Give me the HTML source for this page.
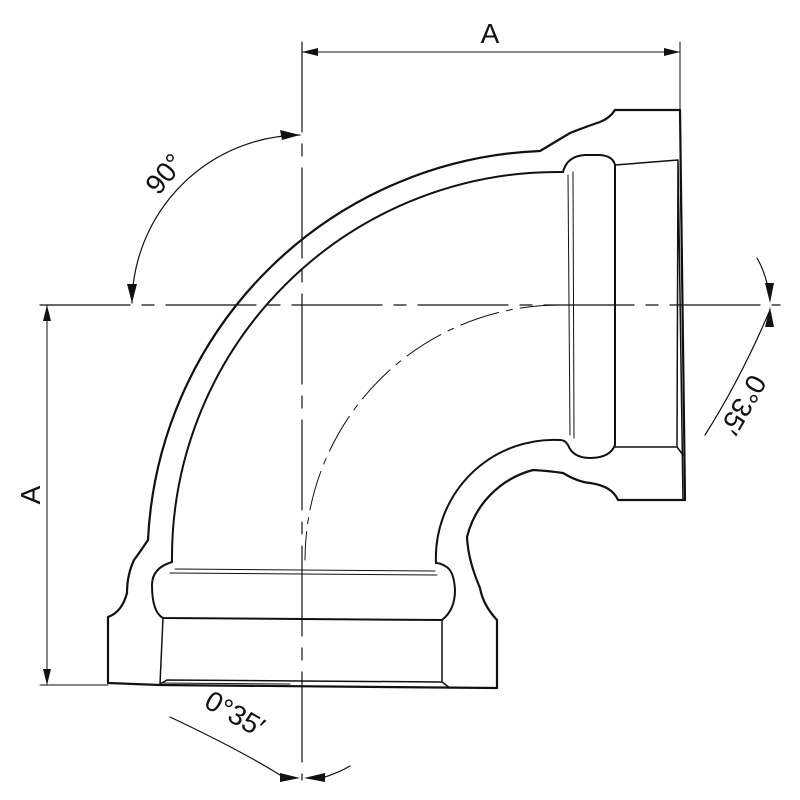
<!DOCTYPE html>
<html><head><style>html,body{margin:0;padding:0;background:#fff}svg{display:block}</style></head>
<body>
<svg width="800" height="800" viewBox="0 0 800 800" xmlns="http://www.w3.org/2000/svg" font-family="Liberation Sans, sans-serif">
<g fill="none" stroke="#111" stroke-linejoin="round" stroke-linecap="round">
<line x1="40" y1="305" x2="780" y2="305" stroke-width="1.2" stroke-dasharray="90,12,12,12"/>
<line x1="302" y1="42" x2="302" y2="780" stroke-width="1.2" stroke-dasharray="90,12,12,12"/>
<path d="M560 305 A255 255 0 0 0 305 560" stroke-width="1" stroke-dasharray="40,8,6,8"/>
<line x1="302" y1="52" x2="680" y2="52" stroke-width="1"/>
<line x1="680" y1="42" x2="680" y2="110" stroke-width="1"/>
<line x1="47" y1="305" x2="47" y2="685" stroke-width="1"/>
<line x1="40" y1="685" x2="108" y2="685" stroke-width="1"/>
<path d="M300 135 A170 170 0 0 0 132 303" stroke-width="1.2"/>
<path d="M170 717 Q240 750 280 775 M325 777 Q340 772 350 766" stroke-width="1.2"/>
<path d="M757 258 Q767 275 770 300 M770 310 Q740 380 705 435" stroke-width="1.2"/>
<path d="M680 110 L615 110 Q610 118 600 122 Q585 127 570 133 Q555 142 540 151 A409 409 0 0 0 148 540 Q140 552 134 560 Q127 575 127 593 Q122 612 108 617 L108 683 L160 685 L497 688 L497 620 Q483 605 480 588 Q468 560 467 537 A92 92 0 0 1 533 470 Q550 471 563 473 Q578 482 590 483 Q612 486 618 500 L685 500 Z" stroke-width="2.2"/>
<path d="M563 172 A386 386 0 0 0 172 562" stroke-width="2"/>
<path d="M560 440 A118 118 0 0 0 436 563" stroke-width="2"/>
<path d="M563 172 Q567 156 585 155 L600 155 Q613 156 615 165 L615 445 Q610 458 590 458 Q573 458 568 445 Q565 440 560 440" stroke-width="2"/>
<line x1="568" y1="175" x2="570" y2="435" stroke-width="1"/>
<line x1="573" y1="172" x2="574" y2="438" stroke-width="1"/>
<path d="M615 165 L678 160 L683 500 M615 447 L677 447 L678 160 M677 447 L683 455" stroke-width="1.5"/>
<line x1="680" y1="160" x2="682" y2="290" stroke-width="1"/>
<path d="M172 562 Q152 568 152 585 Q152 612 163 618 L442 620 Q455 610 455 590 Q454 570 445 566 Q440 563 436 563" stroke-width="2"/>
<line x1="175" y1="569" x2="435" y2="571" stroke-width="1"/>
<line x1="170" y1="573" x2="437" y2="575" stroke-width="1"/>
<path d="M163 618 L160 684 M160 684 L167 680 L442 682 L442 620 M442 682 L450 688" stroke-width="1.5"/>
<line x1="160" y1="683" x2="290" y2="684" stroke-width="1"/>
</g>
<g fill="#111">
<polygon points="302,52 318,48 318,56"/>
<polygon points="680,52 664,48 664,56"/>
<polygon points="47,305 43,321 51,321"/>
<polygon points="47,685 43,669 51,669"/>
<polygon points="300,135 280,130 282,140"/>
<polygon points="132,303 127,284 137,284"/>
<polygon points="300,778 280,773 280,782"/>
<polygon points="304,778 325,773 325,782"/>
<polygon points="770,303 765,283 774,283"/>
<polygon points="770,307 765,327 774,327"/>
</g>
<g fill="#111" font-size="28">
<text x="490" y="43" text-anchor="middle">A</text>
<text transform="translate(40,495) rotate(-90)" text-anchor="middle">A</text>
<text transform="translate(172,180) rotate(-50)" text-anchor="middle">90°</text>
<text transform="translate(230,722) rotate(30)" text-anchor="middle">0°35′</text>
<text transform="translate(735,400) rotate(120)" text-anchor="middle">0°35′</text>
</g>
</svg>
</body></html>
